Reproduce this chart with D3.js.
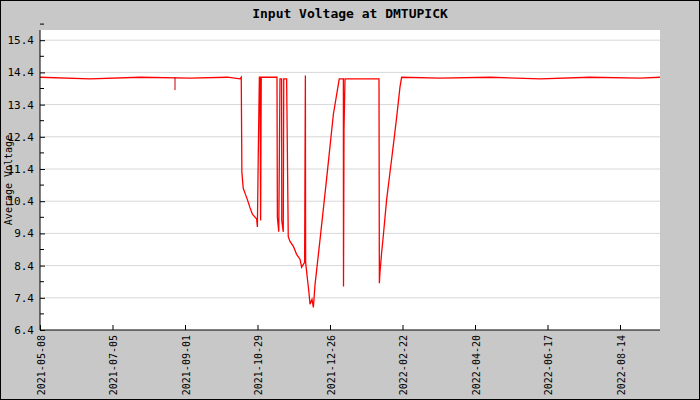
<!DOCTYPE html><html><head><meta charset="utf-8">
<script src="https://cdn.jsdelivr.net/npm/d3@7"></script>
<style>body{margin:0}svg{display:block}text{font-family:"DejaVu Sans Mono",monospace}</style></head><body>
<script>
const startDate = new Date(Date.UTC(2021,4,8));
const days = [0,40,80,120,150,160,161,161.5,162.6,164,165.9,168,169.9,173.3,173.9,174.7,175.5,176,176.5,177,189.6,189.9,191,192,193.3,193.4,194.6,195,197.3,198.6,200,202.7,205.3,208,209.3,211.7,212.3,212.5,213.9,215.2,216,217.6,218.7,220,224,229.3,234.7,239.4,242.7,242.8,243.2,244,271.2,271.5,272,273.3,274.7,277.3,280,282.7,285.3,288,289.3,320,360,400,440,480,496];
const volts = [14.25,14.2,14.25,14.22,14.25,14.2,14.25,11.3,10.8,10.65,10.45,10.2,10.0,9.85,9.6,12.1,14.25,14.25,9.8,14.25,14.25,9.9,9.45,14.2,14.2,9.8,9.45,14.2,14.2,9.3,9.15,9.0,8.75,8.6,8.35,8.5,14.3,8.5,8.0,7.55,7.2,7.35,7.1,7.8,9.2,11.1,13.1,14.2,14.2,7.75,12.65,14.2,14.2,7.85,8.2,8.8,9.35,10.45,11.3,12.15,13.0,13.95,14.25,14.22,14.25,14.2,14.25,14.22,14.25];
const dipDay = 108, dipVal = 13.85;
const yTicks = [6.4,7.4,8.4,9.4,10.4,11.4,12.4,13.4,14.4,15.4];
const xTickDays = [0,58,116,174,232,290,348,406,464];
const xTickLabels = ["2021-05-08","2021-07-05","2021-09-01","2021-10-29","2021-12-26","2022-02-22","2022-04-20","2022-06-17","2022-08-14"];
const W=700,H=400,L=40,R=660,T=30,B=330;
const svg=d3.select("body").append("svg").attr("width",W).attr("height",H);
svg.append("rect").attr("x",0.5).attr("y",0.5).attr("width",W-1).attr("height",H-1).attr("fill","#c8c8c8").attr("stroke","#000");
svg.append("rect").attr("x",L).attr("y",T).attr("width",R-L).attr("height",B-T).attr("fill","#fff");
const x=d3.scaleLinear().domain([0,496]).range([L,R]);
const y=d3.scaleLinear().domain([6.4,6.4+(B-T)/32.2]).range([B,T]);
svg.selectAll(".g").data(yTicks.slice(1)).join("line").attr("x1",L).attr("x2",R).attr("y1",d=>y(d)).attr("y2",d=>y(d)).attr("stroke","#d8d8d8");
const pts=days.map((d,i)=>[d,volts[i]]);
const line=d3.line().x(d=>x(d[0])).y(d=>y(d[1]));
svg.append("path").attr("d",line(pts)).attr("fill","none").attr("stroke","#f00").attr("stroke-width",1.3);
svg.append("line").attr("x1",x(dipDay)).attr("x2",x(dipDay)).attr("y1",y(14.25)).attr("y2",y(dipVal)).attr("stroke","#c00");
const ya=d3.axisRight(y).tickValues(yTicks).tickSize(5).tickFormat(d3.format(".1f"));
const yg=svg.append("g").attr("transform",`translate(${L},0)`).call(ya);
yg.selectAll("text").attr("x",-6).attr("text-anchor","end").attr("font-size",11).attr("fill","#000");
yg.select(".domain").remove();
svg.append("g").attr("transform",`translate(${L},0)`).selectAll("line").data(yTicks.map(v=>v+0.5)).join("line").attr("x1",0).attr("x2",4).attr("y1",d=>y(d)).attr("y2",d=>y(d)).attr("stroke","#000");
svg.append("line").attr("x1",L).attr("x2",L).attr("y1",T).attr("y2",B).attr("stroke","#000");
const xa=d3.axisTop(x).tickValues(xTickDays).tickSize(5).tickFormat((d,i)=>xTickLabels[i]);
const xg=svg.append("g").attr("transform",`translate(0,${B})`).call(xa);
xg.select(".domain").remove();
xg.selectAll("text").attr("transform","rotate(-90)").attr("x",-5).attr("y",4).attr("dy",0).attr("text-anchor","end").attr("font-size",10).attr("fill","#000");
svg.append("line").attr("x1",L).attr("x2",R).attr("y1",B).attr("y2",B).attr("stroke","#000");
svg.append("text").attr("x",350).attr("y",18).attr("text-anchor","middle").attr("font-size",13).attr("font-weight","bold").text("Input Voltage at DMTUPICK");
svg.append("text").attr("transform","translate(12,180) rotate(-90)").attr("text-anchor","middle").attr("font-size",10).text("Average Voltage");
</script></body></html>
